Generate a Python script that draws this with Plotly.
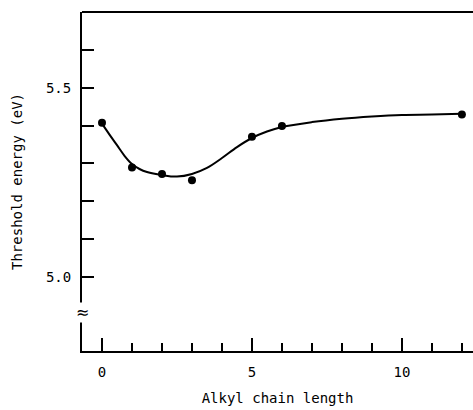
import plotly.graph_objects as go

# measured points
chain_length = [0, 1, 2, 3, 5, 6, 12]
threshold_ev = [5.407, 5.289, 5.272, 5.255, 5.370, 5.399, 5.429]

# smooth guide curve drawn through the data
curve_x = [0, 0.25, 0.5, 0.75, 1, 1.25, 1.5, 2, 2.5, 3, 3.5, 4, 4.5, 5, 5.5, 6, 7, 8, 9, 10, 11, 12]
curve_y = [5.405, 5.376, 5.348, 5.320, 5.298, 5.285, 5.277, 5.269, 5.265, 5.272, 5.288,
           5.314, 5.343, 5.367, 5.384, 5.396, 5.409, 5.418, 5.424, 5.428, 5.429, 5.431]

y_ticks = [5.0, 5.1, 5.2, 5.3, 5.4, 5.5, 5.6]
y_labels = ["5.0", "", "", "", "", "5.5", ""]

FONT = "DejaVu Sans Mono"

fig = go.Figure()
fig.add_trace(go.Scatter(x=curve_x, y=curve_y, mode="lines",
                         line=dict(color="black", width=2, shape="spline", smoothing=1.0),
                         hoverinfo="skip", showlegend=False))
fig.add_trace(go.Scatter(x=chain_length, y=threshold_ev, mode="markers",
                         marker=dict(color="black", size=8), showlegend=False))

fig.update_layout(
    width=473, height=410,
    margin=dict(l=82, r=0, t=12, b=59),
    paper_bgcolor="white", plot_bgcolor="white",
    font=dict(family=FONT, size=13, color="black"),
    xaxis=dict(range=[-0.667, 12.37], tick0=0, dtick=5,
               ticks="inside", ticklen=13, tickwidth=1.5, tickcolor="black",
               minor=dict(dtick=1, tick0=0, ticks="inside", ticklen=8, tickwidth=1.5,
                          tickcolor="black", showgrid=False),
               showline=True, linecolor="black", linewidth=2, mirror=False,
               showgrid=False, zeroline=False, ticklabelstandoff=7,
               title=dict(text="Alkyl chain length", font=dict(family=FONT, size=14), standoff=14),
               tickfont=dict(family=FONT, size=14)),
    yaxis=dict(range=[4.804, 5.70], tickvals=y_ticks, ticktext=y_labels,
               ticks="inside", ticklen=12, tickwidth=1.5, tickcolor="black",
               showline=True, linecolor="black", linewidth=2, mirror=False,
               showgrid=False, zeroline=False, ticklabelstandoff=6,
               title=dict(text="Threshold energy (eV)", font=dict(family=FONT, size=14), standoff=20),
               tickfont=dict(family=FONT, size=14)),
)

# top border of the frame (right side is cut off in the original)
fig.add_shape(type="line", xref="paper", yref="paper", x0=0, x1=1, y0=1, y1=1,
              line=dict(color="black", width=2))

# axis break mark on the y axis
fig.add_annotation(x=0, xref="paper", y=4.905, yref="y", text="≈", showarrow=False,
                   font=dict(family="DejaVu Sans", size=16, color="black"),
                   xanchor="center", yanchor="middle", bgcolor="white", borderpad=0)

fig.write_html("out.html")
